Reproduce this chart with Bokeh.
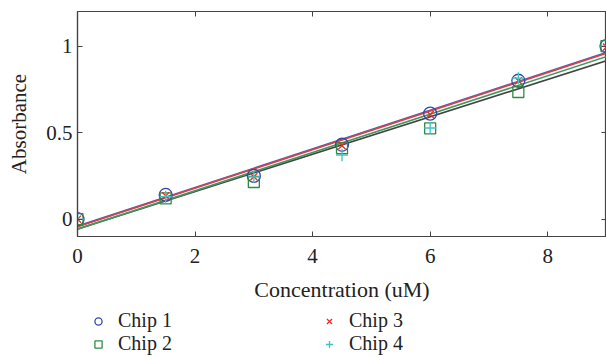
import numpy as np
from bokeh.plotting import figure
from bokeh.layouts import column
from bokeh.models import (Range1d, LinearAxis, FixedTicker, Legend, LegendItem,
                          CustomJSTickFormatter)
from bokeh.embed import file_html
from bokeh.resources import INLINE

# ---- data ----
conc = [0, 1.5, 3, 4.5, 6, 7.5, 9]
chip1 = [0.0, 0.14, 0.25, 0.43, 0.61, 0.80, 1.0]
chip2 = [0.0, 0.12, 0.215, 0.41, 0.525, 0.735, 1.0]
chip3 = [0.0, 0.135, 0.245, 0.425, 0.605, 0.80, 0.995]
chip4 = [0.0, 0.13, 0.245, 0.37, 0.527, 0.815, 1.0]
names = ["Chip 1", "Chip 2", "Chip 3", "Chip 4"]
x_ticks = [0, 2, 4, 6, 8]
y_ticks = [0, 0.5, 1]
y_tick_labels = ["0", "0.5", "1"]

FONT = "Liberation Serif"
FS = "21px"
AX = "#444444"

p = figure(width=606, height=309, output_backend="svg", toolbar_location=None,
           x_range=Range1d(0, 9), y_range=Range1d(-0.1, 1.2),
           min_border_left=77, min_border_right=0, min_border_top=11,
           min_border_bottom=73)
p.grid.visible = False
p.outline_line_color = AX
p.outline_line_width = 1.2

def style_axis(ax, labels=True):
    ax.axis_line_color = AX
    ax.axis_line_width = 1.2
    ax.major_tick_line_color = AX
    ax.major_tick_in = 5
    ax.major_tick_out = 0
    ax.minor_tick_line_color = None
    ax.major_label_text_font = FONT
    ax.major_label_text_font_size = FS
    ax.major_label_text_color = "#222222"
    ax.axis_label_text_font = FONT
    ax.axis_label_text_font_size = FS
    ax.axis_label_text_font_style = "normal"
    ax.axis_label_text_color = "#222222"
    if not labels:
        ax.formatter = CustomJSTickFormatter(code="return '';")
        ax.major_label_standoff = 0

xt = FixedTicker(ticks=x_ticks)
yt = FixedTicker(ticks=y_ticks)
p.xaxis.ticker = xt
p.yaxis.ticker = yt
p.yaxis.major_label_overrides = {t: l for t, l in zip(y_ticks, y_tick_labels)}
p.xaxis.axis_label = "Concentration (uM)"
p.yaxis.axis_label = "Absorbance"
style_axis(p.xaxis[0])
style_axis(p.yaxis[0])
p.xaxis.axis_label_text_font_size = "22px"
p.xaxis.major_label_standoff = 12
p.xaxis.axis_label_standoff = 11
p.yaxis.major_label_standoff = 5
p.yaxis.axis_label_standoff = 12

ra = LinearAxis(ticker=yt)
style_axis(ra, labels=False)
p.add_layout(ra, "right")
ta = LinearAxis(ticker=xt)
style_axis(ta, labels=False)
p.add_layout(ta, "above")

series = [chip1, chip2, chip3, chip4]
line_colors = ["#4d5fb5", "#444444", "#d8404e", "#3e9a5a"]
xs_fit = np.array([0.0, 9.0])
for ys, lc in zip(series, line_colors):
    k, b = np.polyfit(conc, ys, 1)
    p.line(xs_fit, k * xs_fit + b, line_color=lc, line_width=1.6)

styles = [
    dict(marker="circle", size=13, fill_color=None, line_color="#3347a8", line_width=1.3),
    dict(marker="square", size=11, fill_color=None, line_color="#2f8a4a", line_width=1.3),
    dict(marker="x", size=10, line_color="#ee2a2a", line_width=1.3),
    dict(marker="cross", size=12, line_color="#3cc4c4", line_width=1.3),
]
for ys, st in zip(series, styles):
    p.scatter(conc, ys, **st)

# legend in a separate strip figure below (its data lies outside its view)
lf = figure(width=606, height=48, output_backend="svg", toolbar_location=None,
            x_axis_type=None, y_axis_type=None,
            x_range=Range1d(20, 21), y_range=Range1d(20, 21),
            min_border_left=77, min_border_right=0, min_border_top=0,
            min_border_bottom=0)
lf.grid.visible = False
lf.outline_line_color = None
proxies = [lf.scatter(conc, ys, **st) for ys, st in zip(series, styles)]

lg = Legend(items=[LegendItem(label=n, renderers=[r])
                   for n, r in zip(names, proxies)],
            location=(12, 2), orientation="vertical", ncols=2)
lg.border_line_color = None
lg.background_fill_alpha = 0
lg.label_text_font = FONT
lg.label_text_font_size = "20px"
lg.label_text_color = "#222222"
lg.glyph_width = 18
lg.glyph_height = 20
lg.label_standoff = 11
lg.spacing = 0
lg.padding = 0
lg.margin = 0
lg.label_height = 20
lg.label_width = 202
lf.add_layout(lg, "center")

layout = column(p, lf, spacing=0)
open("out.html", "w").write(file_html(layout, INLINE))
